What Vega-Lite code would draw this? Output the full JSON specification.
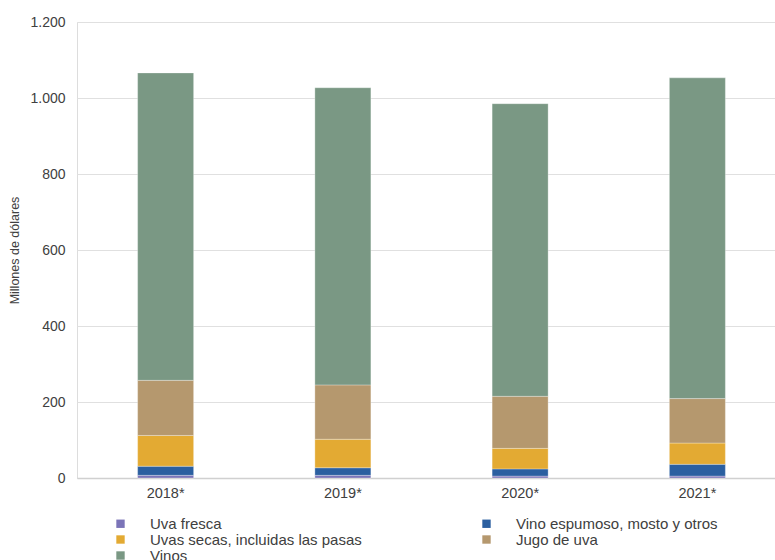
{
  "$schema": "https://vega.github.io/schema/vega-lite/v6.json",
  "width": 709,
  "height": 456,
  "autosize": {"type": "none"},
  "padding": {"left": 77, "top": 22, "right": 0, "bottom": 82},
  "background": "white",
  "data": {
    "values": [
      {"year": "2018*", "cat": "Uva fresca", "o": 1, "v": 7},
      {"year": "2018*", "cat": "Vino espumoso, mosto y otros", "o": 2, "v": 24},
      {"year": "2018*", "cat": "Uvas secas, incluidas las pasas", "o": 3, "v": 81},
      {"year": "2018*", "cat": "Jugo de uva", "o": 4, "v": 145},
      {"year": "2018*", "cat": "Vinos", "o": 5, "v": 809},
      {"year": "2019*", "cat": "Uva fresca", "o": 1, "v": 7},
      {"year": "2019*", "cat": "Vino espumoso, mosto y otros", "o": 2, "v": 20},
      {"year": "2019*", "cat": "Uvas secas, incluidas las pasas", "o": 3, "v": 75},
      {"year": "2019*", "cat": "Jugo de uva", "o": 4, "v": 143},
      {"year": "2019*", "cat": "Vinos", "o": 5, "v": 782},
      {"year": "2020*", "cat": "Uva fresca", "o": 1, "v": 5},
      {"year": "2020*", "cat": "Vino espumoso, mosto y otros", "o": 2, "v": 19},
      {"year": "2020*", "cat": "Uvas secas, incluidas las pasas", "o": 3, "v": 54},
      {"year": "2020*", "cat": "Jugo de uva", "o": 4, "v": 137},
      {"year": "2020*", "cat": "Vinos", "o": 5, "v": 770},
      {"year": "2021*", "cat": "Uva fresca", "o": 1, "v": 5},
      {"year": "2021*", "cat": "Vino espumoso, mosto y otros", "o": 2, "v": 31},
      {"year": "2021*", "cat": "Uvas secas, incluidas las pasas", "o": 3, "v": 56},
      {"year": "2021*", "cat": "Jugo de uva", "o": 4, "v": 117},
      {"year": "2021*", "cat": "Vinos", "o": 5, "v": 844}
    ]
  },
  "mark": {"type": "bar", "size": 56, "stroke": "white", "strokeWidth": 0.5, "strokeOpacity": 0.6},
  "encoding": {
    "x": {
      "field": "year", "type": "nominal", "sort": null,
      "scale": {"paddingInner": 0, "paddingOuter": 0},
      "axis": {"title": null, "labelAngle": 0, "labelFont": "Liberation Sans", "labelFontSize": 14.5, "labelColor": "#404040", "domainColor": "#d0d0d0", "domainWidth": 1.5, "ticks": false, "labelPadding": 8}
    },
    "y": {
      "field": "v", "type": "quantitative", "stack": "zero",
      "scale": {"domain": [0, 1200], "nice": false},
      "axis": {
        "title": "Millones de dólares", "titleFont": "Liberation Sans", "titleFontSize": 12.5, "titleFontWeight": "normal", "titleColor": "#404040", "titlePadding": 8,
        "values": [0, 200, 400, 600, 800, 1000, 1200],
        "labelExpr": "replace(format(datum.value, ','), ',', '.')",
        "labelFont": "Liberation Sans", "labelFontSize": 14, "labelColor": "#404040", "labelPadding": 12,
        "ticks": false, "domain": false, "gridColor": "#e0e0e0", "gridWidth": 1
      }
    },
    "order": {"field": "o", "type": "quantitative"},
    "color": {
      "field": "cat", "type": "nominal",
      "scale": {
        "domain": ["Uva fresca", "Vino espumoso, mosto y otros", "Uvas secas, incluidas las pasas", "Jugo de uva", "Vinos"],
        "range": ["#7b74b8", "#2b5fa0", "#e3aa33", "#b5986e", "#7a9884"]
      },
      "legend": {
        "title": null, "orient": "none", "legendX": 36, "legendY": 494, "direction": "horizontal", "columns": 2,
        "symbolType": "square", "symbolSize": 70, "symbolStrokeWidth": 0,
        "labelFont": "Liberation Sans", "labelFontSize": 15, "labelColor": "#404040", "labelOffset": 22,
        "columnPadding": 117, "rowPadding": 0, "labelLimit": 400
      }
    }
  }
}
